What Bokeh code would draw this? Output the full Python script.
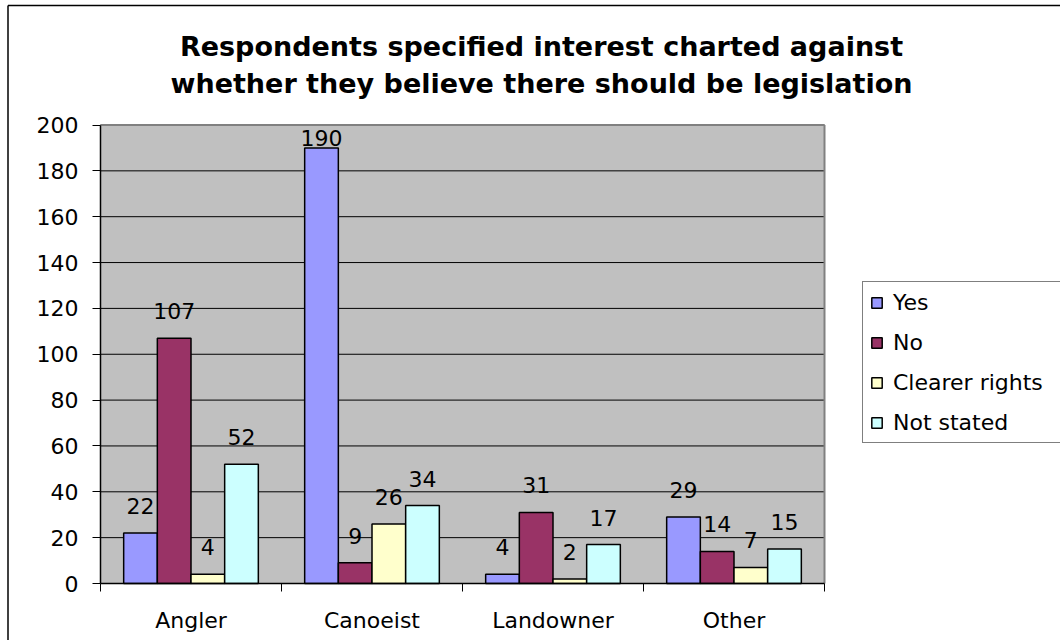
from bokeh.plotting import figure
from bokeh.models import ColumnDataSource, FixedTicker, Legend, LegendItem, Label, Range1d
from bokeh.embed import file_html
from bokeh.resources import INLINE
from bokeh.core.properties import value

categories = ["Angler", "Canoeist", "Landowner", "Other"]
series_names = ["Yes", "No", "Clearer rights", "Not stated"]
yes = [22, 190, 4, 29]
no = [107, 9, 31, 14]
clearer_rights = [4, 26, 2, 7]
not_stated = [52, 34, 17, 15]
series_values = [yes, no, clearer_rights, not_stated]
colors = ["#9999FF", "#993366", "#FFFFCC", "#CCFFFF"]
y_ticks = list(range(0, 201, 20))
title_lines = ["Respondents specified interest charted against",
               "whether they believe there should be legislation"]

FONT = "DejaVu Sans"
W, H = 1060, 640
X0_PX, Y0_PX = 100, 583     # screen position of the plot origin
CAT_PX = 181.0              # pixels per category
UNIT_PX = 2.2925            # pixels per value unit
n_cat = len(categories)
y_max = y_ticks[-1]
LABEL_GAP_PX = 27           # gap between bar top and value-label baseline


def dx(px):
    return (px - X0_PX) / CAT_PX


def dy(py):
    return (Y0_PX - py) / UNIT_PX


p = figure(width=W, height=H,
           x_range=Range1d(dx(0), dx(W)), y_range=Range1d(dy(H), dy(0)),
           output_backend="svg", toolbar_location=None,
           min_border_left=0, min_border_right=0, min_border_top=0, min_border_bottom=0)
p.background_fill_color = "white"
p.border_fill_color = "white"
p.outline_line_color = None
p.xgrid.grid_line_color = None
p.ygrid.grid_line_color = None

# outer chart border (left and top edges visible)
p.segment(x0=[dx(7.5), dx(7.5)], x1=[dx(7.5), dx(W + 5)], y0=[dy(H + 5), dy(5)], y1=[dy(5), dy(5)],
          line_color="black", line_width=1.5)

# plot area
p.quad(left=[0], right=[n_cat], bottom=[0], top=[y_max], fill_color="#C0C0C0", line_color=None)
p.segment(x0=[0] * (len(y_ticks) - 1), x1=[n_cat] * (len(y_ticks) - 1), y0=y_ticks[1:], y1=y_ticks[1:],
          line_color="black", line_width=1)

bar_w = 0.186
label_cap = dy(137)
items = []
for i, (name, vals, col) in enumerate(zip(series_names, series_values, colors)):
    xs = [c + 0.5 + (i - 1.5) * bar_w for c in range(n_cat)]
    label_y = [min(v + LABEL_GAP_PX / UNIT_PX, label_cap) for v in vals]
    src = ColumnDataSource(dict(x=xs, top=vals, ly=label_y, txt=[str(v) for v in vals]))
    r = p.vbar(x="x", top="top", width=bar_w, bottom=0, source=src,
               fill_color=col, line_color="black", line_width=1.5)
    p.text(x="x", y="ly", text="txt", source=src, text_align="center", text_baseline="alphabetic",
           text_font=value(FONT), text_font_size=value("22px"), text_color="black")
    items.append(LegendItem(label=name, renderers=[r]))

# grey top/right border of the plot area
p.segment(x0=[0, n_cat], x1=[n_cat, n_cat], y0=[y_max, 0], y1=[y_max, y_max],
          line_color="#808080", line_width=2)

# axes placed at the plot origin
p.yaxis.fixed_location = 0
p.yaxis.bounds = (0, y_max)
p.yaxis.ticker = FixedTicker(ticks=y_ticks)
p.yaxis.axis_line_color = "black"
p.yaxis.axis_line_width = 1.5
p.yaxis.major_tick_out = 8
p.yaxis.major_tick_in = 0
p.yaxis.minor_tick_line_color = None
p.yaxis.major_tick_line_color = "black"
p.yaxis.major_label_standoff = 14
p.yaxis.major_label_text_font = FONT
p.yaxis.major_label_text_font_size = "22px"
p.yaxis.major_label_text_color = "black"

centers = [c + 0.5 for c in range(n_cat)]
p.xaxis.fixed_location = 0
p.xaxis.bounds = (0, n_cat)
p.xaxis.ticker = FixedTicker(ticks=centers, minor_ticks=list(range(n_cat + 1)))
p.xaxis.major_label_overrides = {c: lab for c, lab in zip(centers, categories)}
p.xaxis.major_tick_line_color = None
p.xaxis.major_tick_out = 0
p.xaxis.major_tick_in = 0
p.xaxis.minor_tick_out = 8
p.xaxis.minor_tick_in = 0
p.xaxis.minor_tick_line_color = "black"
p.xaxis.axis_line_color = "black"
p.xaxis.axis_line_width = 1.5
p.xaxis.major_label_standoff = 16
p.xaxis.major_label_text_font = FONT
p.xaxis.major_label_text_font_size = "22px"
p.xaxis.major_label_text_color = "black"

# two-line title
for line, base_px in zip(title_lines, [46, 83]):
    p.add_layout(Label(x=dx(541), y=dy(base_px), text=line, text_align="center",
                       text_baseline="alphabetic", text_font=FONT, text_font_size="27px",
                       text_font_style="bold", text_color="black"))

legend = Legend(items=items, location=(862, H - 443))
legend.border_line_color = "black"
legend.border_line_width = 1
legend.background_fill_color = "white"
legend.background_fill_alpha = 1
legend.padding = 7
legend.spacing = 14
legend.margin = 0
legend.glyph_width = 13
legend.glyph_height = 13
legend.label_height = 26
legend.label_width = 180
legend.label_standoff = 10
legend.label_text_font = FONT
legend.label_text_font_size = "22px"
legend.label_text_color = "black"
p.add_layout(legend, "center")

open("out.html", "w").write(file_html(p, INLINE))
